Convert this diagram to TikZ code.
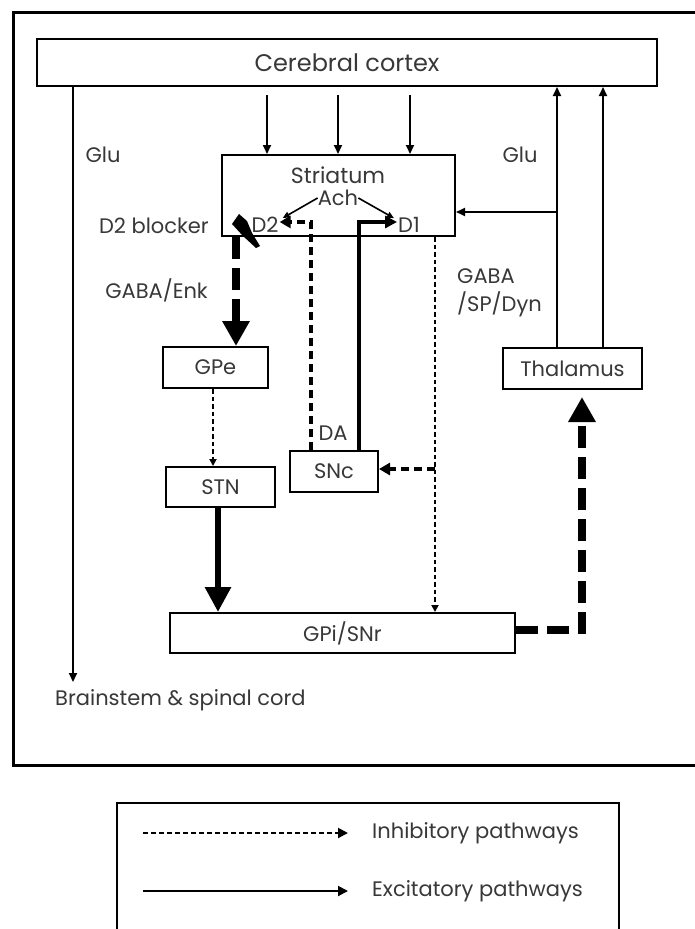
\documentclass[tikz,border=0pt]{standalone}
\usepackage{fontspec}
\setmainfont{Poppins}
\usetikzlibrary{arrows.meta,calc}
\begin{document}
\begin{tikzpicture}[x=1pt,y=-1pt,
  txt/.style={inner sep=0pt, font=\fontsize{21}{25}\selectfont, text=black!78},
  box/.style={draw, line width=2pt, inner sep=0pt, font=\fontsize{21}{25}\selectfont, text=black!78},
  exc/.style={line width=2pt, -{Triangle[length=9pt,width=8pt]}},
  inh/.style={line width=2pt, dash pattern=on 4.5pt off 3pt, -{Triangle[length=7pt,width=7pt]}},
  inhm/.style={line width=3.6pt, dash pattern=on 8pt off 5pt, -{Triangle[length=11pt,width=12pt]}},
  inhb/.style={line width=8pt, dash pattern=on 22pt off 9pt, -{Triangle[length=25pt,width=26pt]}},
  excb/.style={line width=6pt, -{Triangle[length=25pt,width=25pt]}},
  excm/.style={line width=3.6pt, -{Triangle[length=12pt,width=12pt]}}
]
\clip (0,0) rectangle (695,929);
\fill[white] (0,0) rectangle (695,929);
% outer frame
\draw[line width=3pt] (13,12) rectangle (720,765);
% boxes
\node[box, minimum width=620pt, minimum height=47pt, font=\fontsize{24}{28}\selectfont] (cortex) at (347,62.5) {Cerebral cortex};
\node[draw, line width=2pt, minimum width=233pt, minimum height=81pt, inner sep=0pt] (str) at (338.5,195.5) {};
\node[txt, font=\fontsize{22}{26}\selectfont] (strl) at (338,175) {Striatum};
\node[txt] (ach) at (338,198) {Ach};
\node[txt, inner sep=1pt] (d2) at (265,225) {D2};
\node[txt, inner sep=1pt] (d1) at (409,225) {D1};
\node[box, minimum width=105pt, minimum height=41pt] (gpe) at (215.5,367.5) {GPe};
\node[box, minimum width=109pt, minimum height=40pt] (stn) at (220.5,487) {STN};
\node[box, minimum width=88pt, minimum height=41pt] (snc) at (334,471.5) {SNc};
\node[box, minimum width=139pt, minimum height=41pt] (thal) at (572.5,368.5) {Thalamus};
\node[box, minimum width=345pt, minimum height=40pt] (gpi) at (342.5,633) {GPi/SNr};
% labels
\node[txt] (glul) at (103,155) {Glu};
\node[txt] (glur) at (520,155) {Glu};
\node[txt, anchor=east] (d2b) at (209,226) {D2 blocker};
\node[txt, anchor=east] (genk) at (208,290) {GABA/Enk};
\node[txt, anchor=north west, align=left, font=\fontsize{21}{28}\selectfont] (gsp) at (457,268) {GABA\\/SP/Dyn};
\node[txt] (da) at (333,433) {DA};
\node[txt, anchor=west] (bs) at (55,700) {Brainstem \& spinal cord};
% coordinates
\coordinate (bsa) at (73,682);
\coordinate (c1) at (267,95);
\coordinate (c2) at (338,95);
\coordinate (c3) at (410,95);
\coordinate (u1) at (557,0);
\coordinate (u2) at (603,0);
\coordinate (h1) at (557,212);
\coordinate (daL) at (311,222);
\coordinate (daR) at (359,222);
\coordinate (gx) at (435,0);
\coordinate (sncin) at (435,469);
\coordinate (gpex) at (236,0);
\coordinate (stnx) at (218,0);
\coordinate (gpestn) at (213,0);
\coordinate (corner) at (582,630);
\coordinate (thtip) at (582,397);
% connectors
\draw[exc] (cortex.south -| bsa) -- (bsa);
\draw[exc] (c1) -- (c1 |- str.north);
\draw[exc] (c2) -- (c2 |- str.north);
\draw[exc] (c3) -- (c3 |- str.north);
\draw[exc] (thal.north -| u1) -- (cortex.south -| u1);
\draw[exc] (thal.north -| u2) -- (cortex.south -| u2);
\draw[exc] (h1) -- (str.east |- h1);
\draw[line width=1.6pt, -{Triangle[length=7pt,width=6pt]}] (ach.west) -- ([xshift=3pt,yshift=-2pt]d2.north east);
\draw[line width=1.6pt, -{Triangle[length=7pt,width=6pt]}] (ach.east) -- ([xshift=-3pt,yshift=-2pt]d1.north west);
\draw[inhm] (snc.north -| daL) -- (daL) -- (d2.east |- daL);
\draw[excm] (snc.north -| daR) -- (daR) -- (d1.west |- daR);
\draw[inh] (str.south -| gx) -- (gpi.north -| gx);
\draw[inhm] (sncin) -- (snc.east |- sncin);
\draw[inh] (gpe.south -| gpestn) -- (stn.north -| gpestn);
\draw[excb] (stn.south -| stnx) -- (gpi.north -| stnx);
\draw[inhb] (gpi.east |- corner) -- (corner) -- (thtip);
\draw[inhb] (str.south -| gpex) -- (gpe.north -| gpex);
% D2 blocker mark
\fill (232,224) -- (239,214) -- (247,221) -- (252,233) -- (260,246) -- (256,248) -- (243,236) -- cycle;
% legend
\draw[line width=1.4pt] (117,803) rectangle (619,960);
\coordinate (l1a) at (143,833);
\coordinate (l1b) at (348,833);
\coordinate (l2a) at (143,891);
\coordinate (l2b) at (348,891);
\node[txt, anchor=west] (linh) at (372,833) {Inhibitory pathways};
\node[txt, anchor=west] (lexc) at (372,891) {Excitatory pathways};
\draw[line width=2pt, dash pattern=on 5pt off 3pt, -{Triangle[length=10pt,width=10pt]}] (l1a) -- (l1b);
\draw[line width=2pt, -{Triangle[length=10pt,width=10pt]}] (l2a) -- (l2b);
\end{tikzpicture}
\end{document}
